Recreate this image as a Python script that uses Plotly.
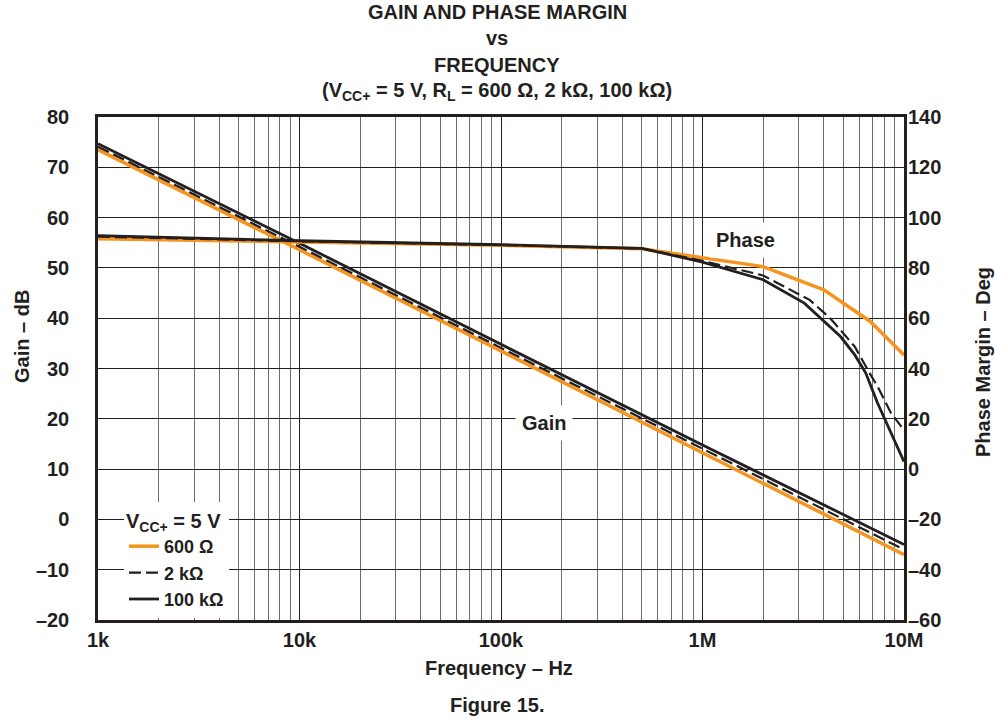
import plotly.graph_objects as go

# ---- data ----
freq_gain = [1e3, 1e4, 1e5, 1e6, 1e7]
gain_600 = [73.5, 53.6, 33.5, 13.3, -7.0]
gain_2k = [74.1, 54.2, 34.1, 14.0, -6.0]
gain_100k = [74.7, 54.9, 34.8, 14.8, -5.0]

freq_ph_600 = [1e3, 1e4, 1e5, 5e5, 1e6, 2e6, 4e6, 6.8e6, 1e7]
phase_600 = [91.6, 90.3, 89.0, 87.6, 84.2, 80.5, 71.3, 58.7, 45.4]

freq_ph_2k = [1e3, 1e4, 1e5, 5e5, 1e6, 2e6, 2.54e6, 3.4e6, 4.3e6, 5.7e6, 6.6e6, 7.4e6, 8.6e6, 1e7]
phase_2k = [92.4, 90.6, 89.1, 87.7, 82.8, 77.0, 72.6, 67.3, 60.0, 48.7, 39.5, 32.8, 22.4, 15.5]

freq_ph_100k = [1e3, 1e4, 1e5, 5e5, 1e6, 2e6, 3.2e6, 4.84e6, 5.7e6, 6.46e6, 7.4e6, 8.6e6, 1e7]
phase_100k = [92.8, 90.8, 89.2, 87.8, 82.3, 75.3, 66.0, 52.7, 45.4, 38.2, 26.2, 14.3, 3.0]

x_tickvals = [1e3, 1e4, 1e5, 1e6, 1e7]
x_ticktext = ["1k", "10k", "100k", "1M", "10M"]
y_tickvals = [80, 70, 60, 50, 40, 30, 20, 10, 0, -10, -20]
y_ticktext = ["80", "70", "60", "50", "40", "30", "20", "10", "0", "\u201310", "\u201320"]
y2_tickvals = [140, 120, 100, 80, 60, 40, 20, 0, -20, -40, -60]
y2_ticktext = ["140", "120", "100", "80", "60", "40", "20", "0", "\u201320", "\u201340", "\u201360"]

ORANGE = "#F7941D"
BLACK = "#231F20"
FONT = "Liberation Sans, Arial, Helvetica, sans-serif"

minor_vals = [m * 10 ** d for d in range(3, 7) for m in range(2, 10)]

fig = go.Figure()

# gain traces
fig.add_trace(go.Scatter(x=freq_gain, y=gain_600, mode="lines", name="600 \u03a9",
                         legendgroup="600", line=dict(color=ORANGE, width=3.5)))
fig.add_trace(go.Scatter(x=freq_gain, y=gain_2k, mode="lines", name="2 k\u03a9",
                         legendgroup="2k", line=dict(color=BLACK, width=2.2, dash="12px,5px")))
fig.add_trace(go.Scatter(x=freq_gain, y=gain_100k, mode="lines", name="100 k\u03a9",
                         legendgroup="100k", line=dict(color=BLACK, width=2.8)))
# phase traces
fig.add_trace(go.Scatter(x=freq_ph_600, y=phase_600, mode="lines", yaxis="y2", showlegend=False,
                         legendgroup="600", line=dict(color=ORANGE, width=3.5)))
fig.add_trace(go.Scatter(x=freq_ph_2k, y=phase_2k, mode="lines", yaxis="y2", showlegend=False,
                         legendgroup="2k", line=dict(color=BLACK, width=2.2, dash="12px,5px")))
fig.add_trace(go.Scatter(x=freq_ph_100k, y=phase_100k, mode="lines", yaxis="y2", showlegend=False,
                         legendgroup="100k", line=dict(color=BLACK, width=2.8)))

L, R, T, B = 98, 91, 117, 99
W, H = 995, 719
PW, PH = W - L - R, H - T - B


def px(x):
    return (x - L) / PW


def py(y):
    return (H - B - y) / PH


FS = 20
tickfont = dict(family=FONT, size=FS, color=BLACK, weight="bold")

fig.update_layout(
    width=W, height=H,
    margin=dict(l=L, r=R, t=T, b=B, pad=0),
    paper_bgcolor="white", plot_bgcolor="white",
    font=dict(family=FONT, color=BLACK),
    xaxis=dict(type="log", range=[3, 7], tickmode="array", tickvals=x_tickvals, ticktext=x_ticktext,
               showgrid=True, gridcolor=BLACK, gridwidth=1,
               minor=dict(tickmode="array", tickvals=minor_vals, showgrid=True, gridcolor="#6d6e71",
                          gridwidth=1, ticks=""),
               showline=True, linecolor=BLACK, linewidth=2.5, mirror=True,
               ticks="", tickfont=tickfont, ticklabelstandoff=0, zeroline=False),
    yaxis=dict(range=[-20, 80], tickmode="array", tickvals=y_tickvals, ticktext=y_ticktext,
               showgrid=True, gridcolor=BLACK, gridwidth=1,
               showline=True, linecolor=BLACK, linewidth=2.5, mirror=True,
               ticks="", tickfont=tickfont, ticklabelstandoff=22, zeroline=False),
    yaxis2=dict(range=[-60, 140], overlaying="y", side="right", tickmode="array",
                tickvals=y2_tickvals, ticktext=y2_ticktext, showgrid=False, zeroline=False,
                ticks="", tickfont=tickfont, ticklabelstandoff=3, showline=False),
    legend=dict(x=px(124), y=py(502), xanchor="left", yanchor="top", bgcolor="white",
                borderwidth=0, font=dict(family=FONT, size=18, color=BLACK, weight="bold"),
                title=dict(text="V<sub>CC+</sub> = 5 V",
                           font=dict(family=FONT, size=FS, color=BLACK, weight="bold")),
                tracegroupgap=0, itemwidth=30),
    showlegend=True,
)

ann_font = dict(family=FONT, size=FS, color=BLACK, weight="bold")
title_lines = [("GAIN AND PHASE MARGIN", 12), ("vs", 38), ("FREQUENCY", 65),
               ("(V<sub>CC+</sub> = 5 V, R<sub>L</sub> = 600 \u03a9, 2 k\u03a9, 100 k\u03a9)", 92)]
for txt, yy in title_lines:
    fig.add_annotation(text=txt, xref="paper", yref="paper", x=px(497), y=py(yy),
                       xanchor="center", yanchor="middle", showarrow=False, font=ann_font)

fig.add_annotation(text="Frequency \u2013 Hz", xref="paper", yref="paper", x=px(499), y=py(668),
                   xanchor="center", yanchor="middle", showarrow=False, font=ann_font)
fig.add_annotation(text="Figure 15.", xref="paper", yref="paper", x=px(497), y=py(705),
                   xanchor="center", yanchor="middle", showarrow=False, font=ann_font)
fig.add_annotation(text="Gain \u2013 dB", xref="paper", yref="paper", x=px(22), y=py(337),
                   xanchor="center", yanchor="middle", showarrow=False, textangle=-90, font=ann_font)
fig.add_annotation(text="Phase Margin \u2013 Deg", xref="paper", yref="paper", x=px(983), y=py(362),
                   xanchor="center", yanchor="middle", showarrow=False, textangle=-90, font=ann_font)
fig.add_annotation(text="Gain", xref="paper", yref="paper", x=px(544), y=py(423),
                   xanchor="center", yanchor="middle", showarrow=False, font=ann_font,
                   bgcolor="white", borderpad=6)
fig.add_annotation(text="Phase", xref="paper", yref="paper", x=px(745), y=py(240),
                   xanchor="center", yanchor="middle", showarrow=False, font=ann_font,
                   bgcolor="white", borderpad=6)

fig.write_html("out.html", config={"displayModeBar": False},
               post_script="document.body.style.margin='0';document.body.style.overflow='hidden';")
